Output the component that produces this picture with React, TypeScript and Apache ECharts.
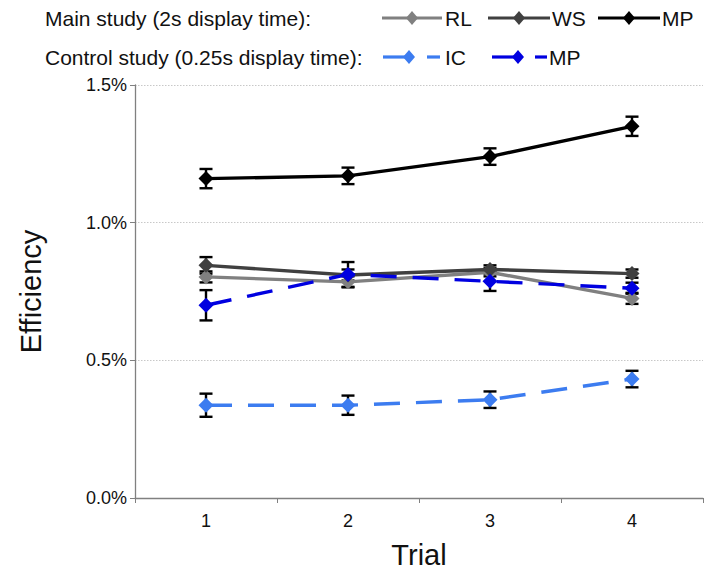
import React, { useEffect, useRef } from "react";
import * as echarts from "echarts";

const trials = ["1", "2", "3", "4"];
const yTicks = [0, 0.5, 1.0, 1.5];

const rlValues = [0.803, 0.785, 0.82, 0.725];
const rlErrors = [0.02, 0.02, 0.015, 0.02];
const wsValues = [0.845, 0.81, 0.83, 0.815];
const wsErrors = [0.03, 0.02, 0.015, 0.015];
const mpMainValues = [1.16, 1.17, 1.24, 1.35];
const mpMainErrors = [0.035, 0.03, 0.03, 0.035];
const icValues = [0.337, 0.337, 0.357, 0.432];
const icErrors = [0.042, 0.035, 0.03, 0.03];
const mpCtrlValues = [0.70, 0.812, 0.787, 0.762];
const mpCtrlErrors = [0.055, 0.045, 0.035, 0.02];

const FONT = "'Liberation Sans', Arial, Helvetica, sans-serif";

const COL_RL = "#808080";
const COL_WS = "#404040";
const COL_MP = "#000000";
const COL_IC = "#3c7cf0";
const COL_MPC = "#0000e0";

function errorSeries(values: number[], errors: number[]) {
  return {
    type: "custom",
    z: 1,
    silent: true,
    renderItem: (params: any, api: any) => {
      const x = api.value(0);
      const v = api.value(1);
      const e = api.value(2);
      const top = api.coord([x, v + e]);
      const bot = api.coord([x, v - e]);
      const hw = 6.5;
      const style = { stroke: "#000", lineWidth: 2.4 };
      return {
        type: "group",
        children: [
          { type: "line", shape: { x1: top[0], y1: top[1], x2: bot[0], y2: bot[1] }, style },
          { type: "line", shape: { x1: top[0] - hw, y1: top[1], x2: top[0] + hw, y2: top[1] }, style },
          { type: "line", shape: { x1: bot[0] - hw, y1: bot[1], x2: bot[0] + hw, y2: bot[1] }, style },
        ],
      };
    },
    data: values.map((v, i) => [i, v, errors[i]]),
  };
}

function lineSeries(name: string, values: number[], color: string, dashed: boolean, z: number) {
  return {
    type: "line",
    name,
    z,
    data: values,
    symbol: "diamond",
    symbolSize: 15,
    itemStyle: { color },
    lineStyle: { color, width: 3.4, type: dashed ? [26, 16] : "solid" },
  };
}

function legendItem(x1: number, x2: number, y: number, dx: number, color: string, label: string, textX: number, dash?: [number, number]) {
  const els: any[] = [
    { type: "line", shape: { x1, y1: y, x2, y2: y }, style: { stroke: color, lineWidth: 3.2 } },
    {
      type: "polygon",
      shape: { points: [[dx, y - 7], [dx + 6, y], [dx, y + 7], [dx - 6, y]] },
      style: { fill: color },
    },
  ];
  if (dash) {
    els.push({ type: "line", shape: { x1: dash[0], y1: y, x2: dash[1], y2: y }, style: { stroke: color, lineWidth: 3.2 } });
  }
  els.push({
    type: "text",
    style: { text: label, x: textX, y, font: `21px ${FONT}`, fill: "#111", verticalAlign: "middle" },
  });
  return els;
}

export default function App() {
  const ref = useRef<HTMLDivElement>(null);
  useEffect(() => {
    if (!ref.current) return;
    document.body.style.margin = "0";
    const chart = echarts.init(ref.current, null, { renderer: "svg" });
    const row1 = 18;
    const row2 = 57;
    chart.setOption({
      animation: false,
      backgroundColor: "#fff",
      grid: { left: 135, right: 17, top: 85, bottom: 79 },
      xAxis: {
        type: "category",
        data: trials,
        boundaryGap: true,
        name: "Trial",
        nameLocation: "middle",
        nameGap: 42,
        nameTextStyle: { fontFamily: FONT, fontSize: 29, color: "#111" },
        axisLine: { lineStyle: { color: "#808080", width: 1.3 } },
        axisTick: { show: true, length: 5, lineStyle: { color: "#808080" } },
        axisLabel: { fontFamily: FONT, fontSize: 18, color: "#111", margin: 14 },
      },
      yAxis: {
        type: "value",
        min: 0,
        max: 1.5,
        interval: 0.5,
        name: "Efficiency",
        nameLocation: "middle",
        nameGap: 90,
        nameRotate: 90,
        nameTextStyle: { fontFamily: FONT, fontSize: 29, color: "#111" },
        axisLine: { show: true, lineStyle: { color: "#808080", width: 1.3 } },
        axisTick: { show: true, length: 5, lineStyle: { color: "#808080" } },
        axisLabel: {
          fontFamily: FONT,
          fontSize: 18,
          color: "#111",
          margin: 8,
          formatter: (v: number) => (yTicks.includes(v) ? v.toFixed(1) + "%" : ""),
        },
        splitLine: { show: true, lineStyle: { color: "#c8c8c8", type: [1.5, 1.5], width: 1 } },
      },
      graphic: [
        {
          type: "text",
          style: { text: "Main study (2s display time):", x: 45, y: row1, font: `21px ${FONT}`, fill: "#111", verticalAlign: "middle" },
        },
        {
          type: "text",
          style: { text: "Control study (0.25s display time):", x: 45, y: row2, font: `21px ${FONT}`, fill: "#111", verticalAlign: "middle" },
        },
        ...legendItem(382, 442, row1, 412, COL_RL, "RL", 445),
        ...legendItem(488, 550, row1, 519, COL_WS, "WS", 552),
        ...legendItem(598, 660, row1, 629, COL_MP, "MP", 662),
        ...legendItem(383, 412, row2, 409, COL_IC, "IC", 445, [427, 440]),
        ...legendItem(492, 520, row2, 518, COL_MPC, "MP", 549, [535, 547]),
      ],
      series: [
        errorSeries(rlValues, rlErrors),
        errorSeries(wsValues, wsErrors),
        errorSeries(mpMainValues, mpMainErrors),
        errorSeries(icValues, icErrors),
        errorSeries(mpCtrlValues, mpCtrlErrors),
        lineSeries("RL", rlValues, COL_RL, false, 2),
        lineSeries("WS", wsValues, COL_WS, false, 3),
        lineSeries("MP", mpMainValues, COL_MP, false, 4),
        lineSeries("IC", icValues, COL_IC, true, 5),
        lineSeries("MP (control)", mpCtrlValues, COL_MPC, true, 6),
      ],
    });
    return () => chart.dispose();
  }, []);
  return <div ref={ref} style={{ width: 720, height: 577 }} />;
}
